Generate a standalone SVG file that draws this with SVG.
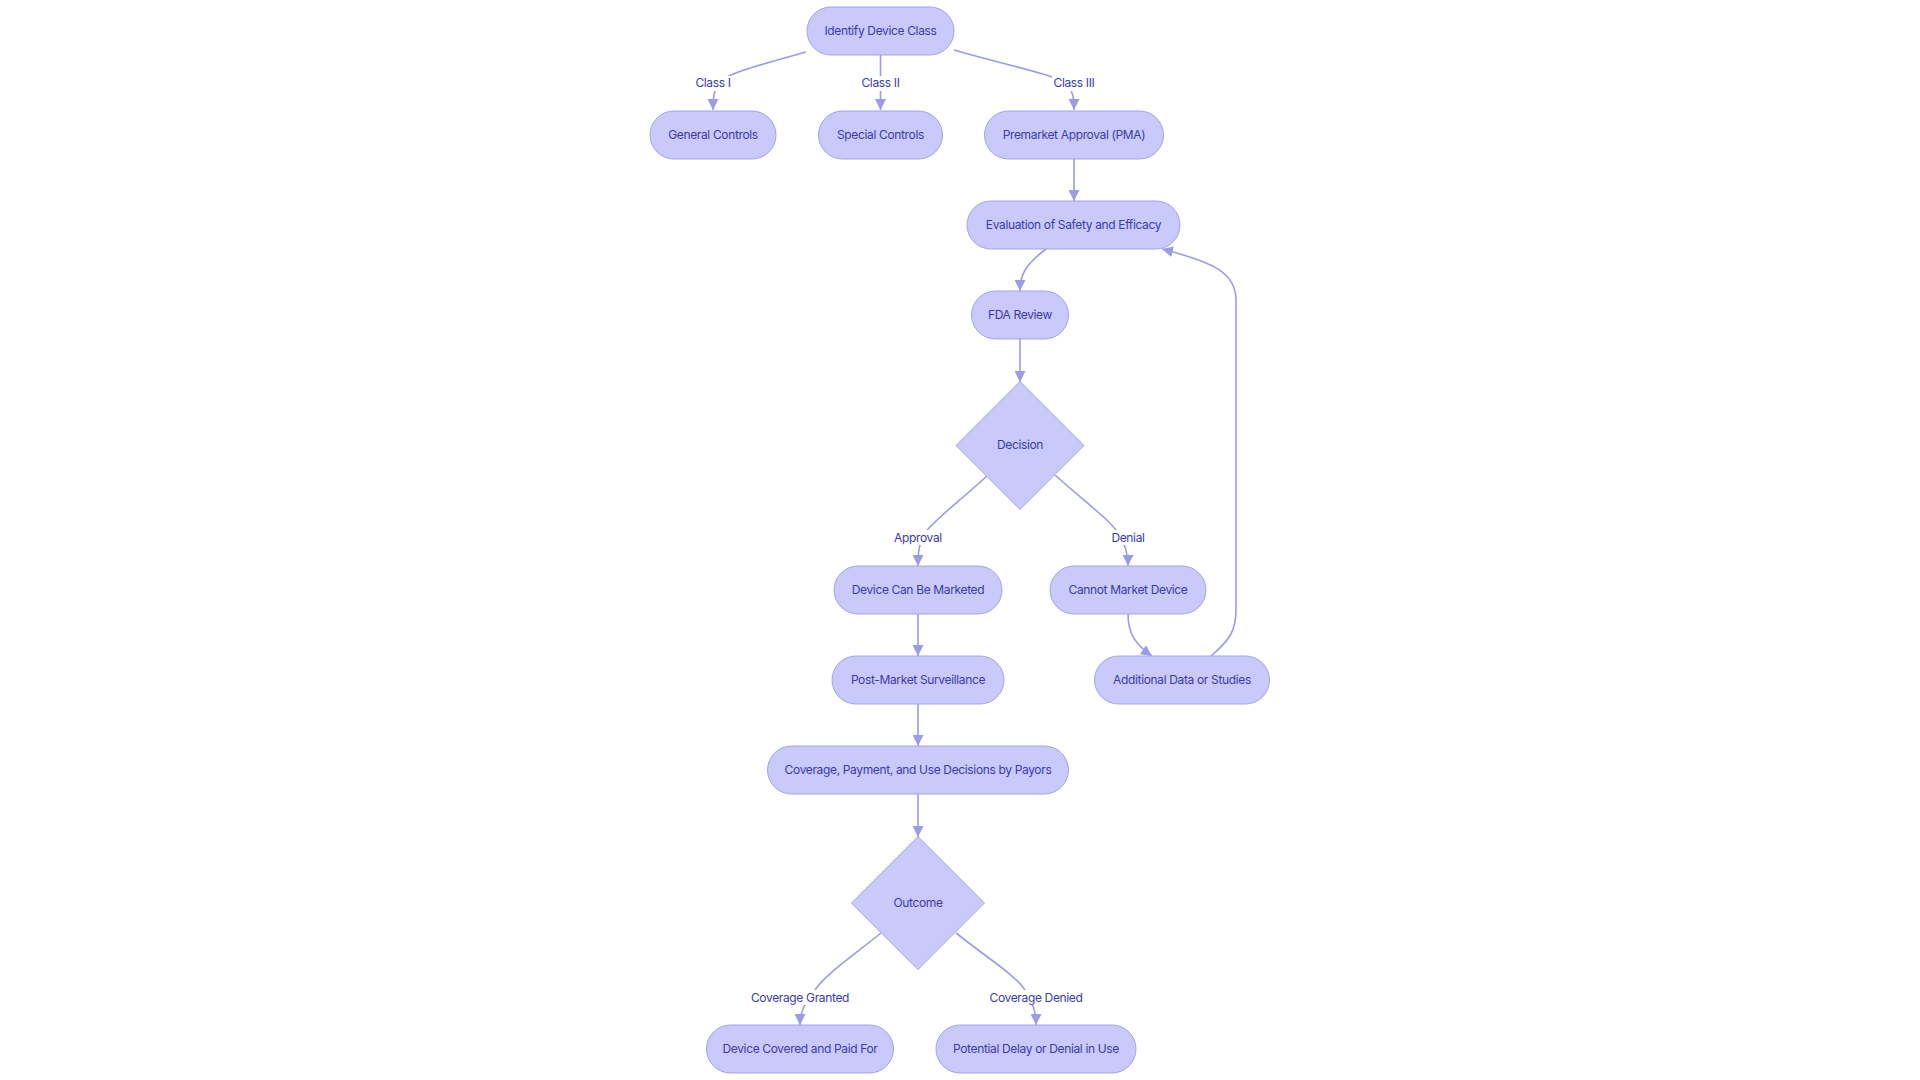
<svg xmlns="http://www.w3.org/2000/svg" width="1920" height="1080" viewBox="0 0 1920 1080">
<style>
.node rect, .node polygon { fill: #c9c9fc; stroke: #a3a3ee; stroke-width: 1; }
.node text { font-family: Inter, "Noto Sans", sans-serif; font-size: 12px; letter-spacing: -0.35px; fill: #3a3aae; text-anchor: middle; dominant-baseline: central; }
.edge { fill: none; stroke: #9b9be6; stroke-width: 1.6; }
.lbl rect { fill: #ffffff; }
.lbl text { font-family: Inter, "Noto Sans", sans-serif; font-size: 12px; letter-spacing: -0.35px; fill: #3a3aae; text-anchor: middle; dominant-baseline: central; }
</style>
<defs>
<marker id="arr" viewBox="0 0 10 10" refX="10" refY="5" markerWidth="11" markerHeight="11" markerUnits="userSpaceOnUse" orient="auto">
<path d="M0,0 L10,5 L0,10 z" fill="#9b9be6"/>
</marker>
</defs>
<rect width="1920" height="1080" fill="#ffffff"/>
<g id="connectors">
<path class="edge" d="M806,52 C760,65 724,74 718,84 C714,91 713,97 713,110" marker-end="url(#arr)"/>
<path class="edge" d="M880.5,55 L880.5,110" marker-end="url(#arr)"/>
<path class="edge" d="M954,50 C1010,66 1060,76 1068,85 C1073,92 1074,98 1074,110" marker-end="url(#arr)"/>
<path class="edge" d="M1074,159 L1074,201" marker-end="url(#arr)"/>
<path class="edge" d="M1046,249 C1025,265 1020,275 1020,291" marker-end="url(#arr)"/>
<path class="edge" d="M1020,339 L1020,382" marker-end="url(#arr)"/>
<path class="edge" d="M987,476 C955,505 932,522 925,533 C919,543 918,552 918,566" marker-end="url(#arr)"/>
<path class="edge" d="M1055,475 C1085,502 1110,520 1118,533 C1125,543 1128,552 1128,566" marker-end="url(#arr)"/>
<path class="edge" d="M918,614 L918,656" marker-end="url(#arr)"/>
<path class="edge" d="M1128,614 C1128,634 1136,645 1152,656" marker-end="url(#arr)"/>
<path class="edge" d="M1211,656 C1230,640 1236,630 1236,610 L1236,300 C1236,272 1212,262 1162,249" marker-end="url(#arr)"/>
<path class="edge" d="M918,704 L918,746" marker-end="url(#arr)"/>
<path class="edge" d="M918,794 L918,837" marker-end="url(#arr)"/>
<path class="edge" d="M881,933 C850,958 825,975 815,990 C805,1003 800,1012 800,1025" marker-end="url(#arr)"/>
<path class="edge" d="M956,933 C990,960 1015,975 1025,990 C1033,1003 1036,1012 1036,1025" marker-end="url(#arr)"/>
<g class="lbl"><rect x="694" y="76" width="38" height="15"/><text x="713" y="82">Class I</text></g>
<g class="lbl"><rect x="860" y="76" width="41" height="15"/><text x="880.5" y="82">Class II</text></g>
<g class="lbl"><rect x="1052" y="76" width="44" height="15"/><text x="1074" y="82">Class III</text></g>
<g class="lbl"><rect x="894" y="530" width="48" height="15"/><text x="918" y="537">Approval</text></g>
<g class="lbl"><rect x="1111" y="530" width="34" height="15"/><text x="1128" y="537">Denial</text></g>
<g class="lbl"><rect x="752" y="990" width="96" height="15"/><text x="800" y="997">Coverage Granted</text></g>
<g class="lbl"><rect x="991" y="990" width="90" height="15"/><text x="1036" y="997">Coverage Denied</text></g>
</g>
<g id="n-identify" class="node"><rect x="807" y="7" width="147" height="48" rx="24"/><text x="880.5" y="30">Identify Device Class</text></g>
<g id="n-general" class="node"><rect x="650" y="111" width="126" height="48" rx="24"/><text x="713" y="134">General Controls</text></g>
<g id="n-special" class="node"><rect x="818.5" y="111" width="124" height="48" rx="24"/><text x="880.5" y="134">Special Controls</text></g>
<g id="n-pma" class="node"><rect x="984.5" y="111" width="179" height="48" rx="24"/><text x="1074" y="134">Premarket Approval (PMA)</text></g>
<g id="n-eval" class="node"><rect x="967" y="201" width="213" height="48" rx="24"/><text x="1073.5" y="224">Evaluation of Safety and Efficacy</text></g>
<g id="n-fda" class="node"><rect x="971.5" y="291" width="97" height="48" rx="24"/><text x="1020" y="314">FDA Review</text></g>
<g id="n-decision" class="node"><polygon points="1020,381.5 1084,445.5 1020,509.5 956,445.5"/><text x="1020" y="444.5">Decision</text></g>
<g id="n-market" class="node"><rect x="834" y="566" width="168" height="48" rx="24"/><text x="918" y="589">Device Can Be Marketed</text></g>
<g id="n-cannot" class="node"><rect x="1050" y="566" width="156" height="48" rx="24"/><text x="1128" y="589">Cannot Market Device</text></g>
<g id="n-post" class="node"><rect x="832" y="656" width="172" height="48" rx="24"/><text x="918" y="679">Post-Market Surveillance</text></g>
<g id="n-additional" class="node"><rect x="1094.5" y="656" width="175" height="48" rx="24"/><text x="1182" y="679">Additional Data or Studies</text></g>
<g id="n-coverage" class="node"><rect x="767.5" y="746" width="301" height="48" rx="24"/><text x="918" y="769">Coverage, Payment, and Use Decisions by Payors</text></g>
<g id="n-outcome" class="node"><polygon points="918,836.5 984.5,903 918,969.5 851.5,903"/><text x="918" y="902">Outcome</text></g>
<g id="n-covered" class="node"><rect x="706.5" y="1025" width="187" height="48" rx="24"/><text x="800" y="1048">Device Covered and Paid For</text></g>
<g id="n-delay" class="node"><rect x="936" y="1025" width="200" height="48" rx="24"/><text x="1036" y="1048">Potential Delay or Denial in Use</text></g>
</svg>
